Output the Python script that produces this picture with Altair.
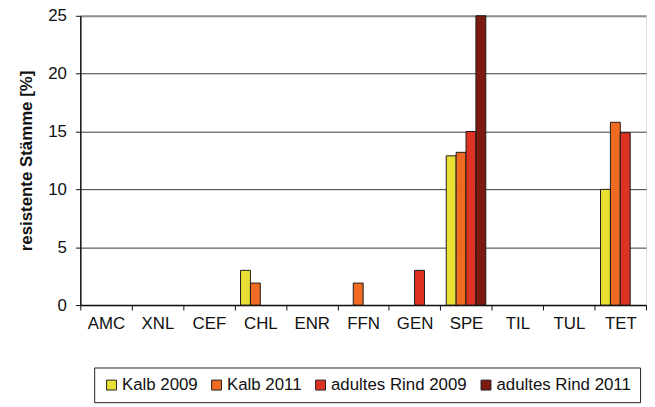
import altair as alt
import pandas as pd

categories = ["AMC", "XNL", "CEF", "CHL", "ENR", "FFN", "GEN", "SPE", "TIL", "TUL", "TET"]
series = ["Kalb 2009", "Kalb 2011", "adultes Rind 2009", "adultes Rind 2011"]
kalb_2009 = [0, 0, 0, 3.0, 0, 0, 0, 12.9, 0, 0, 10.0]
kalb_2011 = [0, 0, 0, 1.9, 0, 1.9, 0, 13.2, 0, 0, 15.8]
rind_2009 = [0, 0, 0, 0, 0, 0, 3.0, 15.0, 0, 0, 14.9]
rind_2011 = [0, 0, 0, 0, 0, 0, 0, 25.0, 0, 0, 0]
colors = ["#E9E033", "#F06A21", "#DE3222", "#7C1A10"]
y_ticks = [0, 5, 10, 15, 20, 25]

rows = []
for s, vals in zip(series, [kalb_2009, kalb_2011, rind_2009, rind_2011]):
    for c, v in zip(categories, vals):
        if v > 0:
            rows.append({"Wirkstoff": c, "Gruppe": s, "Wert": v})
df = pd.DataFrame(rows)

FONT = "Liberation Sans"

bars = alt.Chart(df).mark_bar(stroke="#1a1a1a", strokeWidth=1).encode(
    x=alt.X(
        "Wirkstoff:N",
        sort=categories,
        scale=alt.Scale(domain=categories, paddingInner=0, paddingOuter=0),
        axis=alt.Axis(
            title=None, labelAngle=0, labelFont=FONT, labelFontSize=17,
            labelColor="#111", tickBand="extent", tickSize=5, tickColor="#111",
            domainColor="#111", domainWidth=1.5, labelPadding=6, grid=False,
        ),
    ),
    xOffset=alt.XOffset(
        "Gruppe:N",
        sort=series,
        scale=alt.Scale(domain=series, paddingInner=0, paddingOuter=0.6),
    ),
    y=alt.Y(
        "Wert:Q",
        scale=alt.Scale(domain=[0, 25], nice=False),
        axis=alt.Axis(
            title="resistente Stämme [%]", titleFont=FONT, titleFontSize=17,
            titleFontWeight="bold", titleColor="#111", titlePadding=12,
            values=y_ticks, labelFont=FONT, labelFontSize=17, labelColor="#111",
            labelPadding=9, tickSize=5, tickColor="#111", domainColor="#111",
            domainWidth=1.5,
            gridColor={"condition": {"test": "datum.value === 25", "value": "#8c8c8c"}, "value": "#3a3a3a"},
            gridWidth={"condition": {"test": "datum.value === 25", "value": 2}, "value": 1},
        ),
    ),
    color=alt.Color(
        "Gruppe:N",
        sort=series,
        scale=alt.Scale(domain=series, range=colors),
        legend=alt.Legend(
            title=None, orient="none", legendX=14, legendY=355,
            direction="horizontal", columns=4, strokeColor="#222",
            padding=9, symbolType="square", symbolSize=100,
            symbolStrokeColor="#222", symbolStrokeWidth=1,
            labelFont=FONT, labelFontSize=17, labelColor="#111",
            labelOffset=2, columnPadding=10,
        ),
    ),
)

chart = bars.properties(
    width=571, height=292,
    autosize=alt.AutoSizeParams(type="none"),
    padding={"left": 73, "top": 6, "right": 1, "bottom": 100},
).configure_view(stroke="#8c8c8c", strokeWidth=2).configure(background="white")

chart.save("out.html", embed_options={"renderer": "svg", "actions": False})
